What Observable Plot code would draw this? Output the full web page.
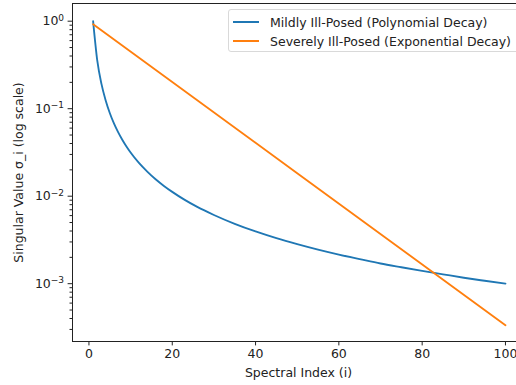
<!DOCTYPE html>
<html>
<head>
<meta charset="utf-8">
<script src="https://cdn.jsdelivr.net/npm/d3@7"></script>
<script src="https://cdn.jsdelivr.net/npm/@observablehq/plot@0.6"></script>
<style>
  html, body { margin: 0; padding: 0; background: #fff; }
  #wrap { position: relative; width: 516px; height: 385px; overflow: hidden; font-family: "DejaVu Sans", sans-serif; }
  #legend { position: absolute; left: 228px; top: 9px; width: 300px; height: 43px; box-sizing: border-box;
            border: 1px solid #d9d9d9; border-radius: 3px; background: rgba(255,255,255,0.8); font-size: 12.5px; color: #222; }
  .row { position: absolute; left: 0; height: 20px; display: flex; align-items: center; white-space: nowrap; }
  .sw { width: 26px; height: 2px; margin-left: 4px; margin-right: 11px; }
</style>
</head>
<body>
<div id="wrap"></div>
<script>
// Series names
const seriesNames = ["Mildly Ill-Posed (Polynomial Decay)", "Severely Ill-Posed (Exponential Decay)"];
const seriesColors = ["#1f77b4", "#ff7f0e"];

// Mildly ill-posed: values
const mildIndex = [1, 2, 3, 4, 5, 6, 7, 8, 9, 10, 12, 14, 16, 18, 20, 23, 26, 30, 35, 40, 45, 50, 55, 60, 65, 70, 75, 80, 85, 90, 95, 100];
const mildValue = [1.0, 0.354, 0.192, 0.125, 0.0894, 0.068, 0.054, 0.0442, 0.037, 0.0316, 0.024, 0.0191, 0.0156, 0.0131, 0.0112, 0.00907, 0.00754, 0.0061, 0.00483, 0.00395, 0.00331, 0.00283, 0.00245, 0.00215, 0.00191, 0.0017, 0.00154, 0.0014, 0.00128, 0.00117, 0.00108, 0.001];

// Severely ill-posed: straight line on the log scale
const severeIndex = [1, 50, 100];
const severeValue = [0.923, 0.0183, 0.000335];

// Tick labels
const xTicks = [0, 20, 40, 60, 80, 100];
const yTicks = [1, 0.1, 0.01, 0.001];
const yTickExponents = ["0", "−1", "−2", "−3"];

const xLabel = "Spectral Index (i)";
const yLabel = "Singular Value σ_i (log scale)";

const xDomain = [-3.95, 102.65];
const yDomain = [2.184e-4, 1.593];

const data = [
  ...mildIndex.map((d, k) => ({i: d, v: mildValue[k], s: seriesNames[0]})),
  ...severeIndex.map((d, k) => ({i: d, v: severeValue[k], s: seriesNames[1]}))
];

const minor = [];
for (let e = -4; e <= 0; e++) for (let m = 2; m <= 9; m++) {
  const v = m * Math.pow(10, e);
  if (v > yDomain[0] && v < yDomain[1]) minor.push(v);
}

const FS = 12.5;
const chart = Plot.plot({
  width: 516,
  height: 385,
  marginLeft: 72,
  marginRight: 0,
  marginTop: 3,
  marginBottom: 44,
  style: {fontFamily: "DejaVu Sans, sans-serif", fontSize: FS + "px", color: "#222", background: "#fff"},
  x: {domain: xDomain},
  y: {type: "log", domain: yDomain},
  color: {domain: seriesNames, range: seriesColors},
  marks: [
    Plot.line(data.filter(d => d.s === seriesNames[0]), {x: "i", y: "v", stroke: seriesColors[0], strokeWidth: 1.85, curve: "monotone-x"}),
    Plot.line(data.filter(d => d.s === seriesNames[1]), {x: "i", y: "v", stroke: seriesColors[1], strokeWidth: 1.85}),
    Plot.ruleX([xDomain[0]], {stroke: "#222", strokeWidth: 1}),
    Plot.ruleY([yDomain[0]], {stroke: "#222", strokeWidth: 1}),
    Plot.ruleY([yDomain[1]], {stroke: "#222", strokeWidth: 1}),
    Plot.axisX({ticks: xTicks, tickSize: 4.4, tickPadding: 3, fontSize: FS, label: null, stroke: "#222"}),
    Plot.axisY({ticks: yTicks, tickSize: 4.4, tickPadding: 4, fontSize: FS, label: null,
      tickFormat: (d) => "10^" + yTickExponents[yTicks.indexOf(d)], stroke: "#222"}),
    Plot.axisY({ticks: minor, tickSize: 2.5, tickFormat: () => "", label: null, stroke: "#222"}),
    Plot.text([xLabel], {frameAnchor: "bottom", textAnchor: "middle", dy: 35, dx: 4, fontSize: FS, fill: "#222"}),
    Plot.text([yLabel], {frameAnchor: "left", textAnchor: "middle", rotate: -90, dx: -54, fontSize: FS, fill: "#222"})
  ]
});

// Render y tick labels as 10 with a raised exponent, as in the reference
d3.select(chart).selectAll("text").each(function() {
  const t = this.textContent;
  if (t.startsWith("10^")) {
    const exp = t.slice(3);
    const sel = d3.select(this);
    sel.text(null);
    sel.append("tspan").text("10");
    sel.append("tspan").attr("font-size", "0.72em").attr("dy", "-0.5em").text(exp);
  }
});

const wrap = document.getElementById("wrap");
wrap.appendChild(chart);

const legend = document.createElement("div");
legend.id = "legend";
seriesNames.forEach((name, k) => {
  const row = document.createElement("div");
  row.className = "row";
  row.style.top = (k * 19.4 + 2) + "px";
  const sw = document.createElement("div");
  sw.className = "sw";
  sw.style.background = seriesColors[k];
  const t = document.createElement("span");
  t.textContent = name;
  row.appendChild(sw);
  row.appendChild(t);
  legend.appendChild(row);
});
wrap.appendChild(legend);
</script>
</body>
</html>
